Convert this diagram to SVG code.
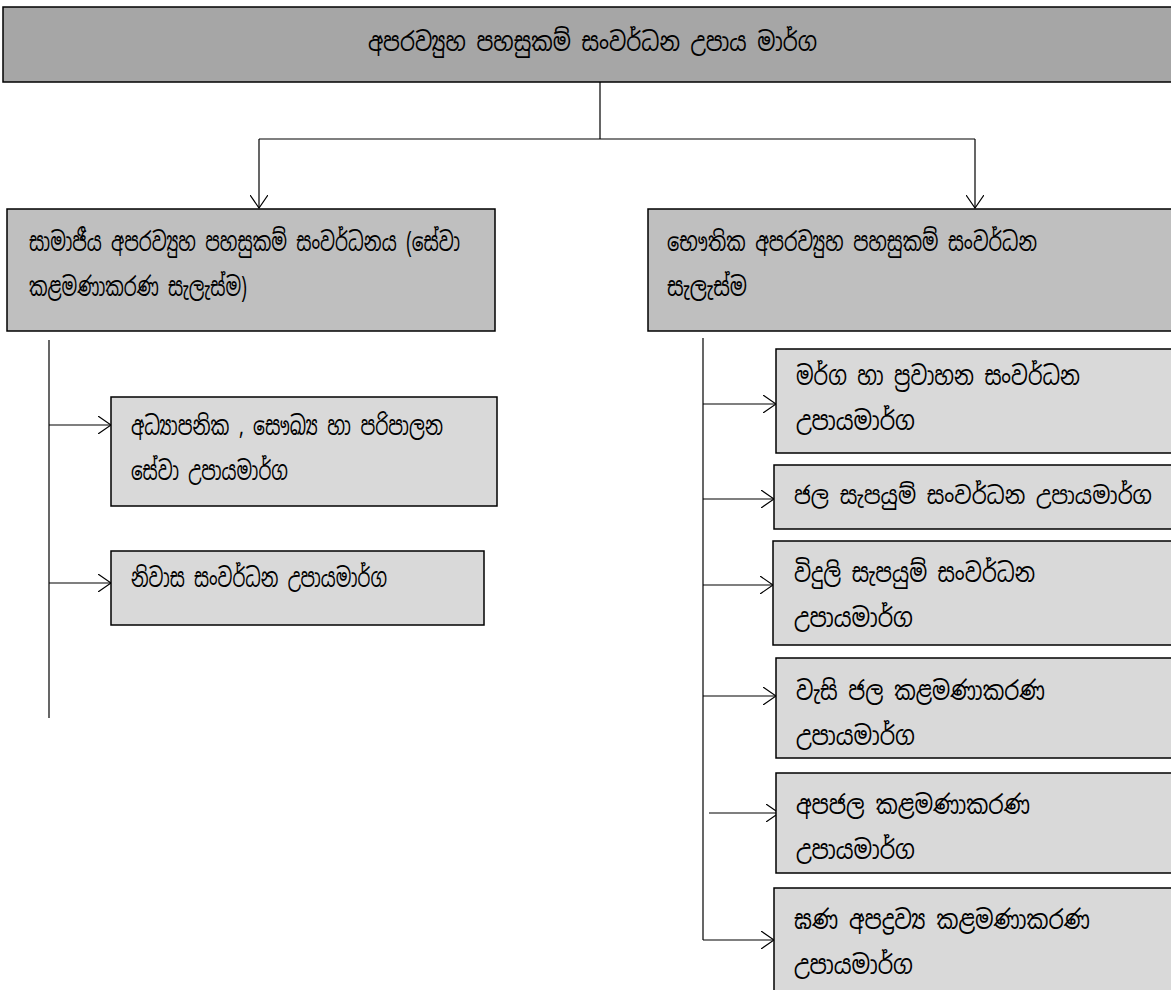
<svg xmlns="http://www.w3.org/2000/svg" width="1171" height="990" viewBox="0 0 1171 990">
<style>
.box{stroke:#000;stroke-width:1.5}
.l1{fill:#a6a6a6}
.l2{fill:#bfbfbf}
.l3{fill:#d9d9d9}
text{font-family:"Noto Sans Sinhala","Iskoola Pota","Noto Sans","DejaVu Sans",sans-serif;font-size:26px;fill:#000}
.s{font-size:24px}
.c{fill:none;stroke:#000;stroke-width:1.2}
.a{marker-end:url(#arr)}
</style>
<defs>
<marker id="arr" markerUnits="userSpaceOnUse" viewBox="0 0 14 18" refX="13" refY="9" markerWidth="14" markerHeight="18" orient="auto">
<path d="M0,0 L13,9 L0,18" fill="none" stroke="#000" stroke-width="1.2"/>
</marker>
</defs>
<g id="connectors">
<path class="c" d="M600,82 V139 M259,139 H975"/>
<path class="c a" d="M259,139 V208"/>
<path class="c a" d="M975,139 V208"/>
<path class="c" d="M49,340 V718"/>
<path class="c a" d="M49,425 H111"/>
<path class="c a" d="M49,583 H111"/>
<path class="c" d="M703,338 V940"/>
<path class="c a" d="M703,404 H776"/>
<path class="c a" d="M703,499 H774"/>
<path class="c a" d="M703,585 H773"/>
<path class="c a" d="M703,696 H776"/>
<path class="c a" d="M709,813 H779"/>
<path class="c a" d="M703,940 H774"/>
</g>
<g id="root">
<rect class="box l1" x="3" y="7" width="1180" height="75"/>
<text x="368" y="51" textLength="449" lengthAdjust="spacingAndGlyphs">අපරව්‍යුහ පහසුකම් සංවර්ධන උපාය මාර්ග</text>
</g>
<g id="social">
<rect class="box l2" x="7" y="209" width="488" height="122"/>
<text x="29" y="251" textLength="431" lengthAdjust="spacingAndGlyphs">සාමාජීය අපරව්‍යුහ පහසුකම් සංවර්ධනය (සේවා</text>
<text x="29" y="296" textLength="218" lengthAdjust="spacingAndGlyphs">කළමණාකරණ සැලැස්ම)</text>
</g>
<g id="physical">
<rect class="box l2" x="648" y="209" width="540" height="122"/>
<text x="667" y="251" textLength="370" lengthAdjust="spacingAndGlyphs">භෞතික අපරව්‍යුහ පහසුකම් සංවර්ධන</text>
<text x="667" y="296" textLength="80" lengthAdjust="spacingAndGlyphs">සැලැස්ම</text>
</g>
<g id="education">
<rect class="box l3" x="111" y="397" width="386" height="109"/>
<text x="131" y="435" textLength="312" lengthAdjust="spacingAndGlyphs">අධ්‍යාපනික , සෞඛ්‍ය හා පරිපාලන</text>
<text x="131" y="480" textLength="157" lengthAdjust="spacingAndGlyphs">සේවා උපායමාර්ග</text>
</g>
<g id="housing">
<rect class="box l3" x="111" y="551" width="373" height="74"/>
<text x="131" y="587" textLength="256" lengthAdjust="spacingAndGlyphs">නිවාස සංවර්ධන උපායමාර්ග</text>
</g>
<g id="roads">
<rect class="box l3" x="776" y="349" width="410" height="104"/>
<text x="796" y="385" textLength="284" lengthAdjust="spacingAndGlyphs">මර්ග හා ප්‍රවාහන සංවර්ධන</text>
<text x="796" y="430" textLength="119" lengthAdjust="spacingAndGlyphs">උපායමාර්ග</text>
</g>
<g id="water">
<rect class="box l3" x="774" y="465" width="412" height="64"/>
<text class="s" x="794" y="504" textLength="358" lengthAdjust="spacingAndGlyphs">ජල සැපයුම් සංවර්ධන උපායමාර්ග</text>
</g>
<g id="electricity">
<rect class="box l3" x="773" y="541" width="413" height="104"/>
<text x="794" y="582" textLength="241" lengthAdjust="spacingAndGlyphs">විදුලි සැපයුම් සංවර්ධන</text>
<text x="794" y="627" textLength="119" lengthAdjust="spacingAndGlyphs">උපායමාර්ග</text>
</g>
<g id="stormwater">
<rect class="box l3" x="776" y="658" width="410" height="100"/>
<text x="796" y="700" textLength="249" lengthAdjust="spacingAndGlyphs">වැසි ජල කළමණාකරණ</text>
<text x="796" y="745" textLength="119" lengthAdjust="spacingAndGlyphs">උපායමාර්ග</text>
</g>
<g id="wastewater">
<rect class="box l3" x="776" y="773" width="410" height="100"/>
<text x="796" y="814" textLength="234" lengthAdjust="spacingAndGlyphs">අපජල කළමණාකරණ</text>
<text x="796" y="859" textLength="119" lengthAdjust="spacingAndGlyphs">උපායමාර්ග</text>
</g>
<g id="solidwaste">
<rect class="box l3" x="774" y="888" width="412" height="110"/>
<text x="794" y="929" textLength="296" lengthAdjust="spacingAndGlyphs">ඝණ අපද්‍රව්‍ය කළමණාකරණ</text>
<text x="794" y="974" textLength="119" lengthAdjust="spacingAndGlyphs">උපායමාර්ග</text>
</g>
</svg>
